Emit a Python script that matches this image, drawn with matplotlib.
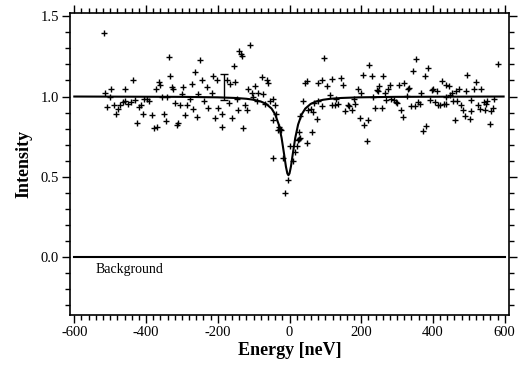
import matplotlib
matplotlib.use("Agg")
import matplotlib.pyplot as plt
from matplotlib.ticker import MultipleLocator

# ---- data ----
energy = [-518, -435, -458, -498, -514, -500, -509, -489, -485, -477, -472, -464, -458, -449,
          -442, -430, -421, -414, -409, -425, -407,
          -337, -249, -263, -333, -365, -361, -373, -328, -324, -296, -272, -231, -245, -212,
          -203, -217, -254, -300, -398, -391, -356, -342, -319, -305, -286, -277, -268, -237,
          -226, -198, -382, -349, -291, -258, -207, -345, -379, -370, -314, -310,
          -110, -140, -136, -133, -156, -175, -166, -152, -77, -64, -59, -96, -115, -105, -87,
          -73, -101, -170, -147, -124, -119, -143, -91, -68, -54, -40, -47, -189, -161, -189,
          -129, -38, -45, -26, -25,
          -31, -29, -45, -17, -3, -13, 1, 20, 24, 29, 15, 10, 27, 48, 62,
          26, 76, 29, 38, 52, 66, 60, 69, 80, 91, 43, 50, 80, 90, 97, 105, 119, 143, 150, 113,
          119, 128, 136, 131, 162, 166, 154, 175, 184, 180, 190, 199, 205, 221, 196, 208, 219, 215,
          229, 261, 250, 243, 247, 266, 275, 280, 306, 320, 331, 334, 328, 345, 354, 377, 385,
          368, 396, 400, 410, 426, 232, 270, 284, 291, 296, 301, 238, 257, 310, 317, 340, 349,
          359, 363, 391, 405, 414, 419, 430, 380, 371,
          580, 496, 521, 437, 444, 472, 465, 515, 533, 493, 452, 447, 437, 570, 435, 456, 468,
          507, 479, 525, 542, 549, 552, 530, 484, 507, 544, 563, 567, 489, 502, 461, 558]
intensity = [1.396, 1.10, 1.05, 1.046, 1.02, 1.00, 0.935, 0.95, 0.89, 0.92, 0.945, 0.965, 0.97, 0.956,
             0.967, 0.977, 0.935, 0.945, 0.893, 0.836, 0.987,
             1.245, 1.228, 1.155, 1.128, 1.09, 1.07, 1.05, 1.06, 1.046, 1.057, 1.08, 1.06, 1.10, 1.13,
             1.10, 1.025, 1.015, 1.015, 0.987, 0.97, 0.998, 0.994, 0.962, 0.945, 0.945, 0.987, 0.925, 0.97,
             0.93, 0.93, 0.883, 0.893, 0.887, 0.872, 0.868, 0.845, 0.805, 0.813, 0.824, 0.838,
             1.319, 1.285, 1.266, 1.25, 1.187, 1.10, 1.077, 1.09, 1.12, 1.10, 1.086, 1.067, 1.046, 1.02, 1.02,
             1.015, 0.998, 0.96, 0.987, 0.95, 0.918, 0.918, 0.973, 0.956, 0.973, 0.95, 0.987, 0.893, 0.866, 0.81,
             0.803, 0.893, 0.851, 0.80, 0.79,
             0.79, 0.81, 0.62, 0.62, 0.478, 0.40, 0.694, 0.694, 0.73, 0.74, 0.652, 0.60, 0.78, 0.71, 0.78,
             0.736, 0.86, 0.876, 0.973, 0.918, 0.903, 0.925, 0.962, 0.973, 0.939, 1.082, 1.094, 1.086, 1.10,
             1.239, 1.065, 1.109, 1.113, 1.07, 1.008,
             0.95, 0.95, 0.956, 0.983, 0.945, 0.939, 0.908, 0.918, 0.956, 0.987, 1.044, 1.023, 1.134, 1.197,
             0.866, 0.82, 0.855, 0.725,
             1.128, 1.128, 1.067, 1.04, 1.033, 1.025, 1.05, 1.07, 1.07, 1.086, 1.044, 1.055, 1.002, 1.159,
             1.233, 1.128, 1.176, 1.019, 1.04, 1.05, 1.033, 1.096, 0.994, 0.977, 0.987, 0.977, 0.967, 0.962,
             0.929, 0.929, 0.918, 0.872, 0.942, 0.942, 0.967, 0.956, 0.977, 0.967, 0.95, 0.945, 0.956,
             0.816, 0.784,
             1.203, 1.134, 1.088, 1.07, 1.065, 1.05, 1.036, 1.046, 1.046, 1.036, 1.025, 1.008, 0.998, 0.987,
             0.956, 0.97, 0.97, 0.977, 0.945, 0.945, 0.967, 0.956, 0.973, 0.925, 0.918, 0.91, 0.918, 0.91,
             0.93, 0.876, 0.862, 0.855, 0.826]

fit_energy = [-600, -300, -200, -150, -120, -100, -80, -65, -50, -40, -30, -22, -15, -10, -6, -3,
              0, 4, 9, 16, 24, 34, 44, 59, 74, 94, 114, 144, 194, 294, 597]
fit_intensity = [1.0, 0.998, 0.995, 0.991, 0.986, 0.980, 0.969, 0.954, 0.925, 0.889, 0.826, 0.742,
                 0.640, 0.564, 0.521, 0.51, 0.521, 0.564, 0.640, 0.742, 0.826, 0.889, 0.925, 0.954,
                 0.969, 0.980, 0.986, 0.991, 0.995, 0.998, 1.0]

background_energy = [-600, 600]
background_intensity = [0.0, 0.0]

errbar_energy = [-183]
errbar_intensity = [1.06]
errbar_err = [0.08]

xticks = [-600, -400, -200, 0, 200, 400, 600]
yticks = [0.0, 0.5, 1.0, 1.5]

# ---- plot ----
plt.rcParams['font.family'] = ['Liberation Serif', 'DejaVu Serif']
fig = plt.figure(figsize=(5.19, 3.65), dpi=100)
ax = fig.add_axes([70/519, 1-315/365, (509-70)/519, (315-13)/365])

ax.plot(energy, intensity, linestyle='none', marker='+', color='black', markersize=4, mew=1.0)
ax.plot(fit_energy, fit_intensity, color='black', lw=1.5)
ax.plot(background_energy, background_intensity, color='black', lw=1.5)
ax.errorbar(errbar_energy, errbar_intensity, yerr=errbar_err, fmt='none', ecolor='black',
            elinewidth=1.0, capsize=3, capthick=1.0)
ax.text(-541, -0.075, 'Background', fontsize=10, va='center', ha='left')

ax.set_xlim(-612, 612)
ax.set_ylim(-0.36, 1.52)
ax.set_xticks(xticks)
ax.set_yticks(yticks)
ax.set_xticklabels([str(v) for v in xticks])
ax.set_yticklabels(['%.1f' % v for v in yticks])
ax.xaxis.set_minor_locator(MultipleLocator(20))
ax.yaxis.set_minor_locator(MultipleLocator(0.1))
ax.tick_params(which='both', direction='out', top=True, right=True, labeltop=False, labelright=False,
               width=1.0, labelsize=10.5, pad=2)
ax.tick_params(which='major', length=6)
ax.tick_params(which='minor', length=3.5)
for s in ax.spines.values():
    s.set_linewidth(1.2)

ax.set_xlabel('Energy [neV]', fontsize=13, fontweight='bold', labelpad=2)
ax.set_ylabel('Intensity', fontsize=13, fontweight='bold', labelpad=6)

fig.savefig('out.png', dpi=100)
